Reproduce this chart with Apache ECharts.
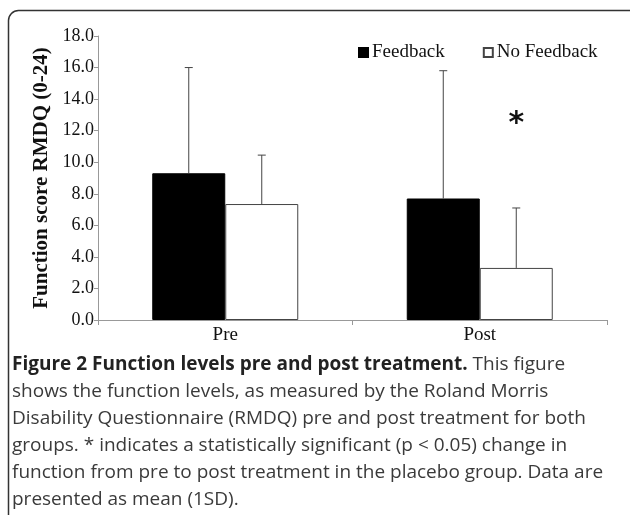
<!DOCTYPE html>
<html>
<head>
<meta charset="utf-8">
<script src="https://cdn.jsdelivr.net/npm/echarts@6/dist/echarts.min.js"></script>
<style>
  html, body { margin: 0; padding: 0; background: #fff; }
  #chart { width: 630px; height: 515px; }
</style>
</head>
<body>
<div id="chart"></div>
<script>
// data
var categories = ['Pre', 'Post'];
var feedbackMean = [9.3, 7.7];
var feedbackSD = [6.7, 8.1];
var noFeedbackMean = [7.35, 3.3];
var noFeedbackSD = [3.1, 3.8];
var yTicks = [0, 2, 4, 6, 8, 10, 12, 14, 16, 18];
var sigMark = ['Post', 12.4];

var captionLines = [
    [{ b: 'Figure 2 Function levels pre and post treatment.' }, ' This figure'],
    ['shows the function levels, as measured by the Roland Morris'],
    ['Disability Questionnaire (RMDQ) pre and post treatment for both'],
    ['groups. * indicates a statistically significant (p < 0.05) change in'],
    ['function from pre to post treatment in the placebo group. Data are'],
    ['presented as mean (1SD).']
];

var dom = document.getElementById('chart');
var myChart = echarts.init(dom);
var serif = '"Liberation Serif", "DejaVu Serif", serif';
var barW = 73;

// error bars: one custom series per group, shifted half a bar
function errorSeries(means, sds, shift) {
    return {
        type: 'custom',
        z: 5,
        silent: true,
        data: means.map(function (m, i) { return [i, m, m + sds[i]]; }),
        renderItem: function (params, api) {
            var lo = api.coord([api.value(0), api.value(1)]);
            var hi = api.coord([api.value(0), api.value(2)]);
            var x = lo[0] + shift;
            var style = { stroke: '#444', lineWidth: 1 };
            return {
                type: 'group',
                children: [
                    { type: 'line', shape: { x1: x, y1: lo[1], x2: x, y2: hi[1] }, style: style },
                    { type: 'line', shape: { x1: x - 4, y1: hi[1], x2: x + 4, y2: hi[1] }, style: style }
                ]
            };
        }
    };
}

var caption = captionLines.map(function (line, i) {
    var parts = line.map(function (p) {
        return typeof p === 'string' ? p : '{b|' + p.b + '}';
    }).join('');
    return {
        type: 'text',
        left: 12,
        top: 355 + i * 27.1,
        style: {
            text: parts,
            fill: '#3a3a3a',
            font: '19px "Open Sans"',
            rich: { b: { fontWeight: 'bold', fontSize: 19, fontFamily: 'Open Sans', fill: '#222' } }
        }
    };
});

var option = {
    animation: false,
    backgroundColor: '#fff',
    grid: { left: 98, right: 23, top: 36, bottom: 195 },
    legend: {
        data: ['Feedback', 'No Feedback'],
        left: 353,
        top: 38,
        itemWidth: 9,
        itemHeight: 9,
        itemGap: 38,
        icon: 'rect',
        textStyle: { fontFamily: serif, fontSize: 19, color: '#111', padding: [0, 0, 0, -1] }
    },
    xAxis: {
        type: 'category',
        data: categories,
        axisLine: { lineStyle: { color: '#999' } },
        axisTick: { show: true, length: 5, lineStyle: { color: '#999' } },
        axisLabel: { fontFamily: serif, fontSize: 19, color: '#111', margin: 6 }
    },
    yAxis: {
        type: 'value',
        min: yTicks[0],
        max: yTicks[yTicks.length - 1],
        interval: 2,
        name: 'Function score RMDQ (0-24)',
        nameLocation: 'middle',
        nameGap: 45,
        nameTextStyle: { fontFamily: serif, fontSize: 21, fontWeight: 'bold', color: '#111' },
        axisLine: { show: true, lineStyle: { color: '#999' } },
        axisTick: { show: true, length: 4, lineStyle: { color: '#999' } },
        splitLine: { show: false },
        axisLabel: {
            fontFamily: serif, fontSize: 18, color: '#111', margin: 4,
            formatter: function (v) { return v.toFixed(1); }
        }
    },
    series: [
        {
            name: 'Feedback',
            type: 'bar',
            barWidth: barW,
            barGap: '0%',
            data: feedbackMean,
            itemStyle: { color: '#000', borderColor: '#000', borderWidth: 1 }
        },
        {
            name: 'No Feedback',
            type: 'bar',
            barWidth: barW,
            barGap: '0%',
            data: noFeedbackMean,
            itemStyle: { color: '#fff', borderColor: '#444', borderWidth: 1 },
            markPoint: {
                symbol: 'rect',
                symbolSize: 1,
                itemStyle: { color: 'transparent' },
                label: {
                    show: true,
                    formatter: '*',
                    fontFamily: '"DejaVu Sans", sans-serif',
                    fontSize: 30,
                    fontWeight: 'bold',
                    color: '#111'
                },
                data: [{ coord: sigMark }]
            }
        },
        errorSeries(feedbackMean, feedbackSD, -barW / 2),
        errorSeries(noFeedbackMean, noFeedbackSD, barW / 2)
    ],
    graphic: [
        {
            type: 'rect',
            silent: true,
            shape: { x: 8.5, y: 10.5, width: 660, height: 540, r: 10 },
            style: { fill: 'none', stroke: '#333', lineWidth: 1.5 }
        }
    ].concat(caption)
};

myChart.setOption(option, true);
</script>
</body>
</html>
